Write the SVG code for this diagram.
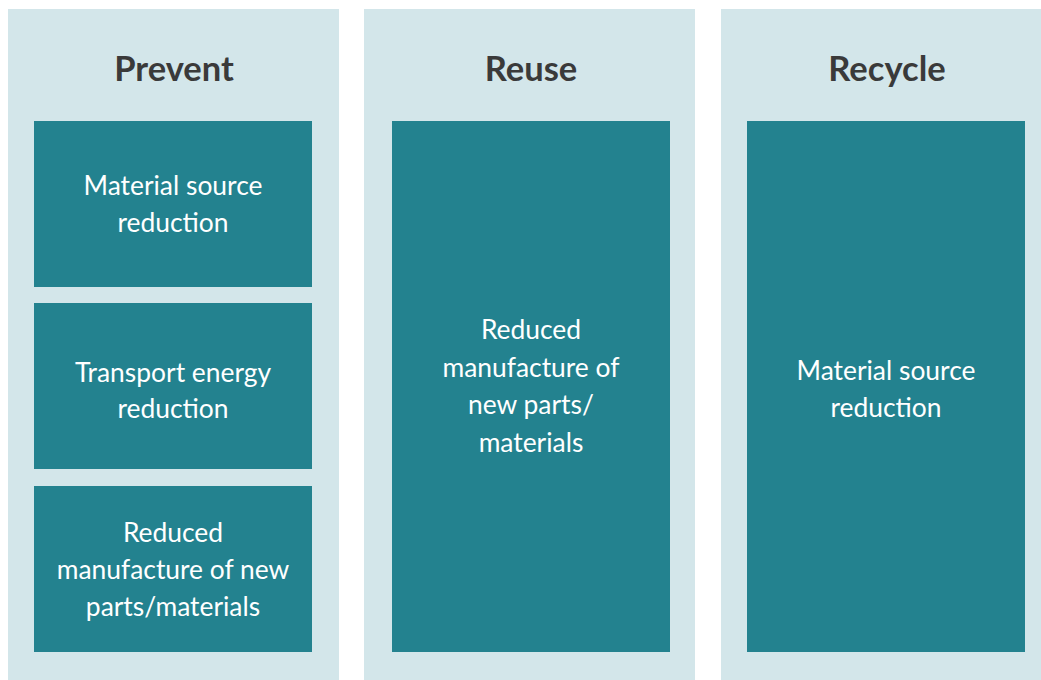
<svg xmlns="http://www.w3.org/2000/svg" width="1041" height="680" viewBox="0 0 1041 680">
<style>
.panel{fill:#d3e6ea}
.box{fill:#23828f}
.title{font-family:Lato,"Open Sans","Liberation Sans",sans-serif;font-weight:700;font-size:34.5px;fill:#3a3a3a;text-anchor:middle}
.lbl{font-family:Lato,"Open Sans","Liberation Sans",sans-serif;font-weight:400;font-size:26.4px;fill:#ffffff;text-anchor:middle}
</style>
<rect width="1041" height="680" fill="#ffffff"/>
<g id="prevent">
<rect class="panel" x="8" y="9" width="331" height="671"/>
<text class="title" x="174" y="81">Prevent</text>
</g>
<g id="reuse">
<rect class="panel" x="364" y="9" width="331" height="671"/>
<text class="title" x="531" y="81">Reuse</text>
</g>
<g id="recycle">
<rect class="panel" x="721" y="9" width="331" height="671"/>
<text class="title" x="887" y="81">Recycle</text>
</g>
<g id="prevent-material">
<rect class="box" x="34" y="121" width="278" height="166"/>
<text class="lbl" x="173" y="195">Material source</text>
<text class="lbl" x="173" y="232">reduction</text>
</g>
<g id="prevent-transport">
<rect class="box" x="34" y="303" width="278" height="166"/>
<text class="lbl" x="173" y="382">Transport energy</text>
<text class="lbl" x="173" y="418">reduction</text>
</g>
<g id="prevent-manufacture">
<rect class="box" x="34" y="486" width="278" height="166"/>
<text class="lbl" x="173" y="542">Reduced</text>
<text class="lbl" x="173" y="579">manufacture of new</text>
<text class="lbl" x="173" y="616">parts/materials</text>
</g>
<g id="reuse-manufacture">
<rect class="box" x="392" y="121" width="278" height="531"/>
<text class="lbl" x="531" y="339">Reduced</text>
<text class="lbl" x="531" y="377">manufacture of</text>
<text class="lbl" x="531" y="414">new parts/</text>
<text class="lbl" x="531" y="452">materials</text>
</g>
<g id="recycle-material">
<rect class="box" x="747" y="121" width="278" height="531"/>
<text class="lbl" x="886" y="380">Material source</text>
<text class="lbl" x="886" y="417">reduction</text>
</g>
<g id="connectors"></g>
</svg>
